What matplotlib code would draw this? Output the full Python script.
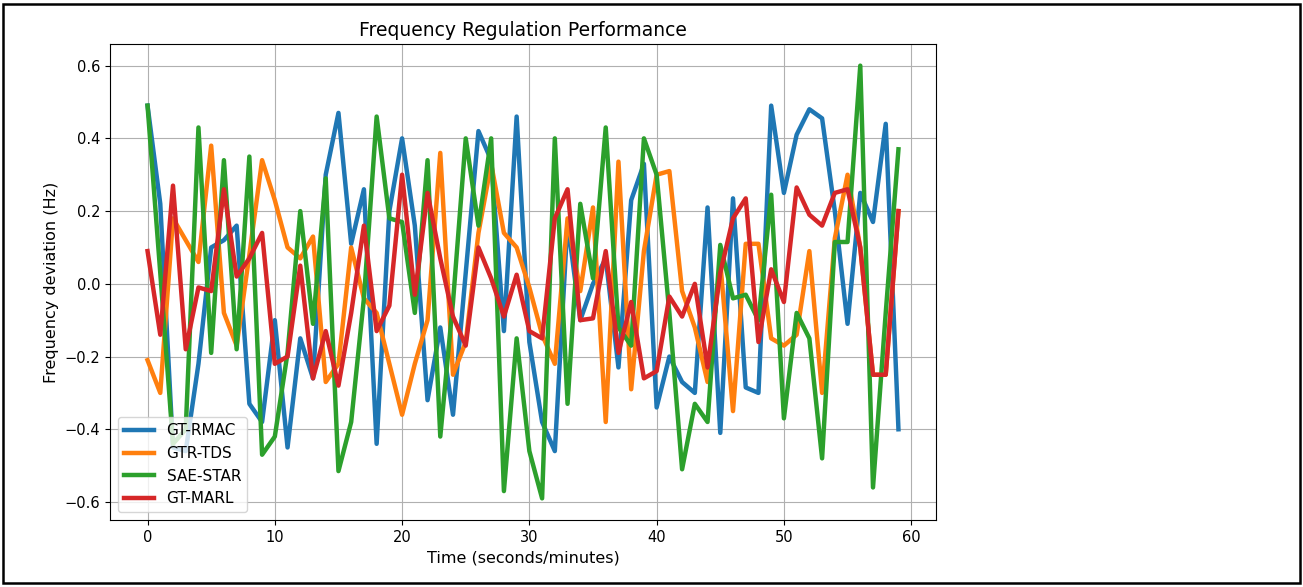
import matplotlib
matplotlib.use('Agg')
import matplotlib.pyplot as plt
from matplotlib.patches import Rectangle

time = list(range(60))

gt_rmac = [0.49, 0.22, -0.45, -0.46, -0.22, 0.10, 0.12, 0.16, -0.33, -0.38,
           -0.10, -0.45, -0.15, -0.26, 0.30, 0.47, 0.11, 0.26, -0.44, 0.20,
           0.40, 0.16, -0.32, -0.12, -0.36, 0.03, 0.42, 0.34, -0.13, 0.46,
           -0.16, -0.38, -0.46, 0.17, -0.10, 0.00, 0.07, -0.23, 0.23, 0.33,
           -0.34, -0.20, -0.27, -0.30, 0.21, -0.41, 0.235, -0.285, -0.30, 0.49,
           0.25, 0.41, 0.48, 0.455, 0.20, -0.11, 0.25, 0.17, 0.44, -0.40]

gtr_tds = [-0.21, -0.30, 0.18, 0.12, 0.06, 0.38, -0.08, -0.17, 0.08, 0.34,
           0.23, 0.10, 0.07, 0.13, -0.27, -0.22, 0.10, -0.04, -0.08, -0.22,
           -0.36, -0.22, -0.10, 0.36, -0.25, -0.16, 0.14, 0.33, 0.14, 0.10,
           -0.01, -0.14, -0.22, 0.18, -0.02, 0.21, -0.38, 0.336, -0.29, 0.09,
           0.30, 0.31, -0.02, -0.12, -0.27, 0.06, -0.35, 0.11, 0.11, -0.15,
           -0.17, -0.14, 0.09, -0.30, 0.125, 0.30, 0.10, -0.25, -0.25, 0.20]

sae_star = [0.49, 0.03, -0.44, -0.40, 0.43, -0.19, 0.34, -0.18, 0.35, -0.47,
            -0.42, -0.19, 0.20, -0.11, 0.29, -0.515, -0.38, -0.04, 0.46, 0.18,
            0.17, -0.08, 0.34, -0.42, -0.05, 0.40, 0.16, 0.40, -0.57, -0.15,
            -0.46, -0.59, 0.40, -0.33, 0.22, 0.015, 0.43, -0.12, -0.17, 0.40,
            0.30, -0.08, -0.51, -0.33, -0.38, 0.107, -0.04, -0.03, -0.10, 0.245,
            -0.37, -0.08, -0.15, -0.48, 0.115, 0.115, 0.60, -0.56, -0.08, 0.37]

gt_marl = [0.09, -0.14, 0.27, -0.18, -0.01, -0.02, 0.26, 0.02, 0.07, 0.14,
           -0.22, -0.20, 0.05, -0.26, -0.13, -0.28, -0.08, 0.16, -0.13, -0.06,
           0.30, -0.03, 0.25, 0.07, -0.09, -0.17, 0.10, 0.015, -0.09, 0.025,
           -0.13, -0.15, 0.18, 0.26, -0.10, -0.095, 0.09, -0.19, -0.05, -0.26,
           -0.24, -0.035, -0.09, 0.00, -0.23, 0.03, 0.18, 0.235, -0.16, 0.04,
           -0.05, 0.265, 0.19, 0.16, 0.25, 0.26, 0.10, -0.25, -0.25, 0.20]

series = [("GT-RMAC", gt_rmac), ("GTR-TDS", gtr_tds),
          ("SAE-STAR", sae_star), ("GT-MARL", gt_marl)]

fig = plt.figure(figsize=(13.03, 5.87), dpi=100)
ax = fig.add_axes([110 / 1303, 1 - 520 / 587, 826 / 1303, 476 / 587])

for name, vals in series:
    ax.plot(time, vals, label=name, linewidth=3.2)

ax.set_title("Frequency Regulation Performance", fontsize=13.5)
ax.set_xlabel("Time (seconds/minutes)", fontsize=11.5)
ax.set_ylabel("Frequency deviation (Hz)", fontsize=11.5)
ax.tick_params(labelsize=10.5)
ax.grid(True)
ax.legend(loc='lower left', fontsize=11)

# black frame around the whole picture
fig.patches.append(Rectangle((3 / 1303, 4 / 587), 1 - 6 / 1303, 1 - 8 / 587,
                             transform=fig.transFigure, fill=False,
                             edgecolor='black', linewidth=1.8))

fig.savefig('out.png', dpi=100)
